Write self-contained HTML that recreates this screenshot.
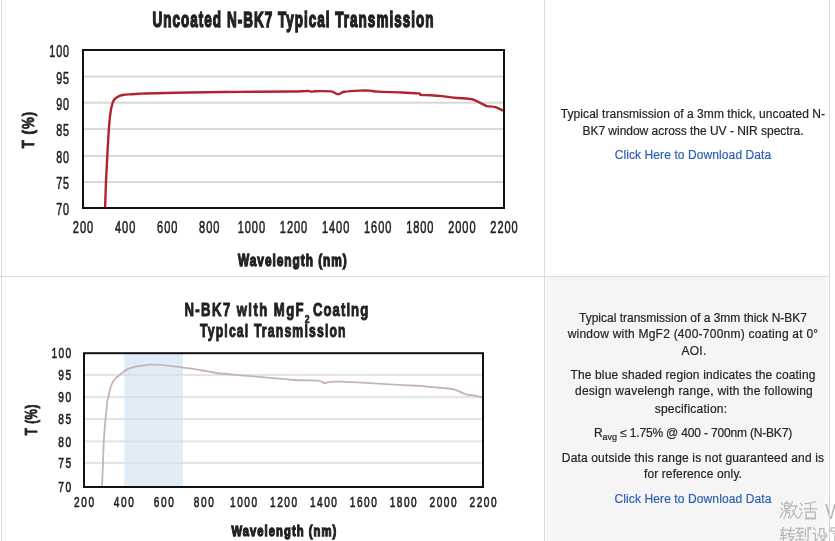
<!DOCTYPE html>
<html><head><meta charset="utf-8">
<style>
html,body{margin:0;padding:0;}
body{width:835px;height:541px;overflow:hidden;background:#fff;position:relative;font-family:"Liberation Sans",sans-serif;}
svg{position:absolute;left:0;top:0;will-change:transform;}
.t{will-change:transform;}
.t{position:absolute;white-space:nowrap;text-align:center;font-size:12px;color:#242424;-webkit-text-stroke:0.2px #242424;}
.ln{position:absolute;left:0;width:835px;}
.link{color:#2f5fb3;-webkit-text-stroke:0.2px #2f5fb3;}
</style></head><body>
<svg width="835" height="541" viewBox="0 0 835 541">
<rect x="545" y="277" width="284" height="264" fill="#f9f9f9"/>
<rect x="551" y="277" width="274" height="264" fill="#f5f5f5"/>
<rect x="547" y="277" width="1" height="264" fill="#f2f2f2"/>
<rect x="1" y="0" width="1" height="541" fill="#dcdcdc"/>
<rect x="5" y="0" width="1" height="541" fill="#f6f6f6"/>
<rect x="544" y="0" width="1" height="541" fill="#dcdcdc"/>
<rect x="829" y="0" width="1" height="541" fill="#dcdcdc"/>
<rect x="0" y="276" width="830" height="1" fill="#dcdcdc"/>
<rect x="84" y="75.50" width="419" height="2" fill="#d8d8d8"/>
<rect x="84" y="101.70" width="419" height="2" fill="#d8d8d8"/>
<rect x="84" y="128.10" width="419" height="2" fill="#d8d8d8"/>
<rect x="84" y="154.90" width="419" height="2" fill="#d8d8d8"/>
<rect x="84" y="181.05" width="419" height="2" fill="#d8d8d8"/>
<path d="M105.10,208.00 C105.25,203.67 105.63,190.63 106.00,182.00 C106.37,173.37 106.83,164.87 107.30,156.20 C107.77,147.53 108.27,137.25 108.80,130.00 C109.33,122.75 109.87,117.23 110.50,112.70 C111.13,108.17 111.87,105.10 112.60,102.80 C113.33,100.50 113.98,99.93 114.90,98.90 C115.82,97.87 116.80,97.25 118.10,96.60 C119.40,95.95 120.38,95.40 122.70,95.00 C125.02,94.60 129.12,94.42 132.00,94.20 C134.88,93.98 137.83,93.82 140.00,93.70 C142.17,93.58 136.67,93.70 145.00,93.50 C153.33,93.30 174.17,92.77 190.00,92.50 C205.83,92.23 223.33,92.07 240.00,91.90 C256.67,91.73 279.17,91.63 290.00,91.50 C300.83,91.37 301.75,91.17 305.00,91.10 C308.25,91.03 308.33,90.98 309.50,91.10 C310.67,91.22 311.08,91.78 312.00,91.80 C312.92,91.82 311.83,91.27 315.00,91.20 C318.17,91.13 327.92,91.23 331.00,91.40 C334.08,91.57 332.47,91.77 333.50,92.20 C334.53,92.63 336.12,93.73 337.20,94.00 C338.28,94.27 338.80,94.17 340.00,93.80 C341.20,93.43 341.07,92.33 344.40,91.80 C347.73,91.27 355.82,90.80 360.00,90.60 C364.18,90.40 366.52,90.43 369.50,90.60 C372.48,90.77 372.50,91.28 377.90,91.60 C383.30,91.92 395.12,92.20 401.90,92.50 C408.68,92.80 415.42,93.00 418.60,93.40 C421.78,93.80 418.97,94.58 421.00,94.90 C423.03,95.22 427.37,95.10 430.80,95.30 C434.23,95.50 437.65,95.70 441.60,96.10 C445.55,96.50 450.02,97.25 454.50,97.70 C458.98,98.15 465.27,98.43 468.50,98.80 C471.73,99.17 471.20,98.83 473.90,99.90 C476.60,100.97 482.55,104.17 484.70,105.20 C486.85,106.23 485.02,105.77 486.80,106.10 C488.58,106.43 492.70,106.45 495.40,107.20 C498.10,107.95 501.73,110.03 503.00,110.60" fill="none" stroke="#b5222f" stroke-width="2.4" stroke-linejoin="round"/>
<rect x="83" y="50" width="421" height="158" fill="none" stroke="#111" stroke-width="2"/>
<text transform="translate(152.5,26.6) scale(0.6,1)" x="0" y="0" font-size="22.5" font-weight="bold" textLength="468.33" lengthAdjust="spacing" font-family="Liberation Sans" fill="#231f20" stroke="#231f20" stroke-width="1.5">Uncoated N-BK7 Typical Transmission</text>
<text transform="translate(49.30,57.10) scale(0.64,1)" x="0" y="0" font-size="16.8" textLength="30.94" lengthAdjust="spacing" font-family="Liberation Sans" fill="#231f20" stroke="#231f20" stroke-width="0.6">100</text>
<text transform="translate(56.20,83.60) scale(0.64,1)" x="0" y="0" font-size="16.8" textLength="20.16" lengthAdjust="spacing" font-family="Liberation Sans" fill="#231f20" stroke="#231f20" stroke-width="0.6">95</text>
<text transform="translate(56.20,109.80) scale(0.64,1)" x="0" y="0" font-size="16.8" textLength="20.16" lengthAdjust="spacing" font-family="Liberation Sans" fill="#231f20" stroke="#231f20" stroke-width="0.6">90</text>
<text transform="translate(56.20,136.20) scale(0.64,1)" x="0" y="0" font-size="16.8" textLength="20.16" lengthAdjust="spacing" font-family="Liberation Sans" fill="#231f20" stroke="#231f20" stroke-width="0.6">85</text>
<text transform="translate(56.20,163.00) scale(0.64,1)" x="0" y="0" font-size="16.8" textLength="20.16" lengthAdjust="spacing" font-family="Liberation Sans" fill="#231f20" stroke="#231f20" stroke-width="0.6">80</text>
<text transform="translate(56.20,189.15) scale(0.64,1)" x="0" y="0" font-size="16.8" textLength="20.16" lengthAdjust="spacing" font-family="Liberation Sans" fill="#231f20" stroke="#231f20" stroke-width="0.6">75</text>
<text transform="translate(56.20,215.10) scale(0.64,1)" x="0" y="0" font-size="16.8" textLength="20.16" lengthAdjust="spacing" font-family="Liberation Sans" fill="#231f20" stroke="#231f20" stroke-width="0.6">70</text>
<text transform="translate(72.80,232.80) scale(0.64,1)" x="0" y="0" font-size="17.2" textLength="31.87" lengthAdjust="spacing" font-family="Liberation Sans" fill="#231f20" stroke="#231f20" stroke-width="0.6">200</text>
<text transform="translate(114.90,232.80) scale(0.64,1)" x="0" y="0" font-size="17.2" textLength="31.87" lengthAdjust="spacing" font-family="Liberation Sans" fill="#231f20" stroke="#231f20" stroke-width="0.6">400</text>
<text transform="translate(157.00,232.80) scale(0.64,1)" x="0" y="0" font-size="17.2" textLength="31.87" lengthAdjust="spacing" font-family="Liberation Sans" fill="#231f20" stroke="#231f20" stroke-width="0.6">600</text>
<text transform="translate(199.10,232.80) scale(0.64,1)" x="0" y="0" font-size="17.2" textLength="31.87" lengthAdjust="spacing" font-family="Liberation Sans" fill="#231f20" stroke="#231f20" stroke-width="0.6">800</text>
<text transform="translate(237.75,232.80) scale(0.64,1)" x="0" y="0" font-size="17.2" textLength="42.66" lengthAdjust="spacing" font-family="Liberation Sans" fill="#231f20" stroke="#231f20" stroke-width="0.6">1000</text>
<text transform="translate(279.85,232.80) scale(0.64,1)" x="0" y="0" font-size="17.2" textLength="42.66" lengthAdjust="spacing" font-family="Liberation Sans" fill="#231f20" stroke="#231f20" stroke-width="0.6">1200</text>
<text transform="translate(321.95,232.80) scale(0.64,1)" x="0" y="0" font-size="17.2" textLength="42.66" lengthAdjust="spacing" font-family="Liberation Sans" fill="#231f20" stroke="#231f20" stroke-width="0.6">1400</text>
<text transform="translate(364.05,232.80) scale(0.64,1)" x="0" y="0" font-size="17.2" textLength="42.66" lengthAdjust="spacing" font-family="Liberation Sans" fill="#231f20" stroke="#231f20" stroke-width="0.6">1600</text>
<text transform="translate(406.15,232.80) scale(0.64,1)" x="0" y="0" font-size="17.2" textLength="42.66" lengthAdjust="spacing" font-family="Liberation Sans" fill="#231f20" stroke="#231f20" stroke-width="0.6">1800</text>
<text transform="translate(448.25,232.80) scale(0.64,1)" x="0" y="0" font-size="17.2" textLength="42.66" lengthAdjust="spacing" font-family="Liberation Sans" fill="#231f20" stroke="#231f20" stroke-width="0.6">2000</text>
<text transform="translate(490.35,232.80) scale(0.64,1)" x="0" y="0" font-size="17.2" textLength="42.66" lengthAdjust="spacing" font-family="Liberation Sans" fill="#231f20" stroke="#231f20" stroke-width="0.6">2200</text>
<text transform="translate(33.5,148.2) rotate(-90) scale(0.78,1)" x="0" y="0" font-size="17" font-weight="bold" textLength="46.79" lengthAdjust="spacing" font-family="Liberation Sans" fill="#231f20" stroke="#231f20" stroke-width="0.8">T (%)</text>
<text transform="translate(238.0,266.2) scale(0.72,1)" x="0" y="0" font-size="16.5" font-weight="bold" textLength="151.11" lengthAdjust="spacing" font-family="Liberation Sans" fill="#231f20" stroke="#231f20" stroke-width="1.3">Wavelength (nm)</text>
<rect x="124.3" y="354" width="58.5" height="132" fill="#e0ecf6"/>
<rect x="85" y="373.90" width="397" height="2" fill="#dcdcdc" fill-opacity="0.8"/>
<rect x="85" y="396.10" width="397" height="2" fill="#dcdcdc" fill-opacity="0.8"/>
<rect x="85" y="418.10" width="397" height="2" fill="#dcdcdc" fill-opacity="0.8"/>
<rect x="85" y="440.40" width="397" height="2" fill="#dcdcdc" fill-opacity="0.8"/>
<rect x="85" y="461.90" width="397" height="2" fill="#dcdcdc" fill-opacity="0.8"/>
<path d="M102.00,487.00 C102.17,483.00 102.70,470.60 103.00,463.00 C103.30,455.40 103.38,448.72 103.80,441.40 C104.22,434.08 104.88,426.00 105.50,419.10 C106.12,412.20 107.07,403.52 107.50,400.00 C107.93,396.48 107.48,400.42 108.10,398.00 C108.72,395.58 110.05,388.67 111.20,385.50 C112.35,382.33 113.62,380.73 115.00,379.00 C116.38,377.27 117.28,376.78 119.50,375.10 C121.72,373.42 124.88,370.43 128.30,368.90 C131.72,367.37 135.85,366.62 140.00,365.90 C144.15,365.18 148.20,364.62 153.20,364.60 C158.20,364.58 165.02,365.30 170.00,365.80 C174.98,366.30 178.12,366.90 183.10,367.60 C188.08,368.30 194.32,369.10 199.90,370.00 C205.48,370.90 209.92,372.12 216.60,373.00 C223.28,373.88 231.95,374.58 240.00,375.30 C248.05,376.02 255.75,376.52 264.90,377.30 C274.05,378.08 286.12,379.45 294.90,380.00 C303.68,380.55 313.25,380.35 317.60,380.60 C321.95,380.85 319.80,381.10 321.00,381.50 C322.20,381.90 323.17,382.95 324.80,383.00 C326.43,383.05 327.93,382.02 330.80,381.80 C333.67,381.58 336.13,381.52 342.00,381.70 C347.87,381.88 358.02,382.45 366.00,382.90 C373.98,383.35 382.93,384.00 389.90,384.40 C396.87,384.80 402.78,385.05 407.80,385.30 C412.82,385.55 415.87,385.58 420.00,385.90 C424.13,386.22 427.72,386.75 432.60,387.20 C437.48,387.65 445.40,388.12 449.30,388.60 C453.20,389.08 453.07,389.08 456.00,390.10 C458.93,391.12 464.23,393.87 466.90,394.70 C469.57,395.53 469.48,394.67 472.00,395.10 C474.52,395.53 480.33,396.93 482.00,397.30" fill="none" stroke="#c6b3ba" stroke-width="1.8" stroke-linejoin="round"/>
<rect x="84" y="353.2" width="399" height="133.8" fill="none" stroke="#111" stroke-width="2"/>
<text transform="translate(184.4,315.9) scale(0.71,1)" x="0" y="0" font-size="18.5" font-weight="bold" textLength="167.89" lengthAdjust="spacing" font-family="Liberation Sans" fill="#231f20" stroke="#231f20" stroke-width="1.0">N-BK7 with MgF</text>
<text x="304.8" y="322.8" font-size="10.5" font-weight="bold" textLength="4.8" lengthAdjust="spacingAndGlyphs" font-family="Liberation Sans" fill="#231f20" stroke="#231f20" stroke-width="0.6">2</text>
<text transform="translate(313.0,315.9) scale(0.71,1)" x="0" y="0" font-size="18.5" font-weight="bold" textLength="77.75" lengthAdjust="spacing" font-family="Liberation Sans" fill="#231f20" stroke="#231f20" stroke-width="1.0">Coating</text>
<text transform="translate(200.0,336.7) scale(0.69,1)" x="0" y="0" font-size="17.8" font-weight="bold" textLength="211.01" lengthAdjust="spacing" font-family="Liberation Sans" fill="#231f20" stroke="#231f20" stroke-width="1.0">Typical Transmission</text>
<text transform="translate(51.60,358.20) scale(0.72,1)" x="0" y="0" font-size="14.2" textLength="27.22" lengthAdjust="spacing" font-family="Liberation Sans" fill="#231f20" stroke="#231f20" stroke-width="0.6">100</text>
<text transform="translate(58.20,380.10) scale(0.72,1)" x="0" y="0" font-size="14.2" textLength="18.06" lengthAdjust="spacing" font-family="Liberation Sans" fill="#231f20" stroke="#231f20" stroke-width="0.6">95</text>
<text transform="translate(58.20,402.30) scale(0.72,1)" x="0" y="0" font-size="14.2" textLength="18.06" lengthAdjust="spacing" font-family="Liberation Sans" fill="#231f20" stroke="#231f20" stroke-width="0.6">90</text>
<text transform="translate(58.20,424.30) scale(0.72,1)" x="0" y="0" font-size="14.2" textLength="18.06" lengthAdjust="spacing" font-family="Liberation Sans" fill="#231f20" stroke="#231f20" stroke-width="0.6">85</text>
<text transform="translate(58.20,446.60) scale(0.72,1)" x="0" y="0" font-size="14.2" textLength="18.06" lengthAdjust="spacing" font-family="Liberation Sans" fill="#231f20" stroke="#231f20" stroke-width="0.6">80</text>
<text transform="translate(58.20,468.10) scale(0.72,1)" x="0" y="0" font-size="14.2" textLength="18.06" lengthAdjust="spacing" font-family="Liberation Sans" fill="#231f20" stroke="#231f20" stroke-width="0.6">75</text>
<text transform="translate(58.20,492.30) scale(0.72,1)" x="0" y="0" font-size="14.2" textLength="18.06" lengthAdjust="spacing" font-family="Liberation Sans" fill="#231f20" stroke="#231f20" stroke-width="0.6">70</text>
<text transform="translate(73.95,506.80) scale(0.72,1)" x="0" y="0" font-size="14.0" textLength="27.92" lengthAdjust="spacing" font-family="Liberation Sans" fill="#231f20" stroke="#231f20" stroke-width="0.6">200</text>
<text transform="translate(113.85,506.80) scale(0.72,1)" x="0" y="0" font-size="14.0" textLength="27.92" lengthAdjust="spacing" font-family="Liberation Sans" fill="#231f20" stroke="#231f20" stroke-width="0.6">400</text>
<text transform="translate(153.75,506.80) scale(0.72,1)" x="0" y="0" font-size="14.0" textLength="27.92" lengthAdjust="spacing" font-family="Liberation Sans" fill="#231f20" stroke="#231f20" stroke-width="0.6">600</text>
<text transform="translate(193.65,506.80) scale(0.72,1)" x="0" y="0" font-size="14.0" textLength="27.92" lengthAdjust="spacing" font-family="Liberation Sans" fill="#231f20" stroke="#231f20" stroke-width="0.6">800</text>
<text transform="translate(230.10,506.80) scale(0.72,1)" x="0" y="0" font-size="14.0" textLength="37.50" lengthAdjust="spacing" font-family="Liberation Sans" fill="#231f20" stroke="#231f20" stroke-width="0.6">1000</text>
<text transform="translate(270.00,506.80) scale(0.72,1)" x="0" y="0" font-size="14.0" textLength="37.50" lengthAdjust="spacing" font-family="Liberation Sans" fill="#231f20" stroke="#231f20" stroke-width="0.6">1200</text>
<text transform="translate(309.90,506.80) scale(0.72,1)" x="0" y="0" font-size="14.0" textLength="37.50" lengthAdjust="spacing" font-family="Liberation Sans" fill="#231f20" stroke="#231f20" stroke-width="0.6">1400</text>
<text transform="translate(349.80,506.80) scale(0.72,1)" x="0" y="0" font-size="14.0" textLength="37.50" lengthAdjust="spacing" font-family="Liberation Sans" fill="#231f20" stroke="#231f20" stroke-width="0.6">1600</text>
<text transform="translate(389.70,506.80) scale(0.72,1)" x="0" y="0" font-size="14.0" textLength="37.50" lengthAdjust="spacing" font-family="Liberation Sans" fill="#231f20" stroke="#231f20" stroke-width="0.6">1800</text>
<text transform="translate(429.60,506.80) scale(0.72,1)" x="0" y="0" font-size="14.0" textLength="37.50" lengthAdjust="spacing" font-family="Liberation Sans" fill="#231f20" stroke="#231f20" stroke-width="0.6">2000</text>
<text transform="translate(469.50,506.80) scale(0.72,1)" x="0" y="0" font-size="14.0" textLength="37.50" lengthAdjust="spacing" font-family="Liberation Sans" fill="#231f20" stroke="#231f20" stroke-width="0.6">2200</text>
<text transform="translate(36.7,435.2) rotate(-90) scale(0.7,1)" x="0" y="0" font-size="16.5" font-weight="bold" textLength="43.57" lengthAdjust="spacing" font-family="Liberation Sans" fill="#231f20" stroke="#231f20" stroke-width="0.8">T (%)</text>
<text transform="translate(231.5,535.7) scale(0.74,1)" x="0" y="0" font-size="15.2" font-weight="bold" textLength="141.62" lengthAdjust="spacing" font-family="Liberation Sans" fill="#231f20" stroke="#231f20" stroke-width="1.3">Wavelength (nm)</text>
<g transform="translate(779.7,501) scale(0.1800)" fill="none" stroke="#b9b9b9" stroke-width="6.94" stroke-linecap="square"><path d="M10 12 L18 22"/><path d="M6 40 L15 48"/><path d="M3 92 L18 62"/><path d="M40 3 L37 12"/><path d="M28 13 H52 V42 H28 Z"/><path d="M28 27 H52"/><path d="M24 54 H58"/><path d="M40 46 V54"/><path d="M37 54 Q34 80 24 96"/><path d="M40 64 H55 Q55 90 47 92"/><path d="M70 4 Q66 22 58 36"/><path d="M64 28 H97"/><path d="M90 28 Q82 70 58 97"/><path d="M70 50 Q82 80 99 96"/></g>
<g transform="translate(798.6,501) scale(0.1850)" fill="none" stroke="#b9b9b9" stroke-width="6.76" stroke-linecap="square"><path d="M10 12 L18 22"/><path d="M6 40 L15 48"/><path d="M3 92 L18 62"/><path d="M36 14 Q65 12 92 4"/><path d="M30 42 H98"/><path d="M64 12 V60"/><path d="M40 60 H90 V96 H40 Z"/><path d="M40 92 H90"/></g>
<text x="825" y="518.6" font-family="Liberation Sans" font-size="22" fill="#b9b9b9" textLength="20" lengthAdjust="spacingAndGlyphs">W</text>
<g transform="translate(779.7,527) scale(0.1500)" fill="none" stroke="#b9b9b9" stroke-width="8.33" stroke-linecap="square"><path d="M4 20 H42"/><path d="M24 4 Q16 40 8 56 H40"/><path d="M25 36 V100"/><path d="M2 78 L44 72"/><path d="M50 22 H96"/><path d="M44 46 H100"/><path d="M74 4 L62 64 H94 Q86 80 76 88"/><path d="M64 80 L88 98"/></g>
<g transform="translate(795.4,527) scale(0.1350)" fill="none" stroke="#b9b9b9" stroke-width="9.26" stroke-linecap="square"><path d="M4 10 H60"/><path d="M32 10 L12 46 L56 40"/><path d="M46 30 L56 44"/><path d="M12 66 H56"/><path d="M34 46 V92"/><path d="M2 94 H64"/><path d="M74 18 V70"/><path d="M94 2 V94 Q94 100 84 96"/></g>
<g transform="translate(808,527) scale(0.0600)" fill="none" stroke="#b9b9b9" stroke-width="20.83" stroke-linecap="square"><path d="M20 8 L14 36"/><path d="M44 8 L38 36"/></g>
<g transform="translate(812.4,527) scale(0.1600)" fill="none" stroke="#b9b9b9" stroke-width="7.81" stroke-linecap="square"><path d="M8 6 L18 18"/><path d="M4 40 H18 V86 L30 76"/><path d="M46 10 V34 Q44 44 36 50"/><path d="M46 10 H72 V36 Q74 44 88 44"/><path d="M40 56 H90"/><path d="M86 56 Q70 86 38 98"/><path d="M50 64 Q70 90 98 98"/></g>
<g transform="translate(830,527) scale(0.1600)" fill="none" stroke="#b9b9b9" stroke-width="7.81" stroke-linecap="square"><path d="M6 6 V26 H100 V6 H6"/><path d="M40 6 V26"/><path d="M70 6 V26"/><path d="M20 40 H90"/><path d="M30 50 V96"/><path d="M10 98 H100"/></g>
<rect x="829" y="495" width="1" height="46" fill="#d4d4d4"/>
</svg>
<div class="t " style="left:543.0px;width:300px;top:107.0px;letter-spacing:0.060px;">Typical transmission of a 3mm thick, uncoated N-</div>
<div class="t " style="left:543.4px;width:300px;top:123.5px;letter-spacing:-0.024px;">BK7 window across the UV - NIR spectra.</div>
<div class="t link" style="left:543.0px;width:300px;top:147.9px;letter-spacing:0.096px;">Click Here to Download Data</div>
<div class="t " style="left:543.2px;width:300px;top:310.8px;letter-spacing:-0.002px;">Typical transmission of a 3mm thick N-BK7</div>
<div class="t " style="left:543.4px;width:300px;top:326.9px;letter-spacing:0.233px;">window with MgF2 (400-700nm) coating at 0&deg;</div>
<div class="t " style="left:543.5px;width:300px;top:343.7px;letter-spacing:0.300px;">AOI.</div>
<div class="t " style="left:543.2px;width:300px;top:367.6px;letter-spacing:0.142px;">The blue shaded region indicates the coating</div>
<div class="t " style="left:543.5px;width:300px;top:384.4px;letter-spacing:0.234px;">design wavelengh range, with the following</div>
<div class="t " style="left:541.3px;width:300px;top:401.5px;letter-spacing:0.238px;">specification:</div>
<div class="t " style="left:543.4px;width:300px;top:426.2px;letter-spacing:-0.171px;">R<sub style="font-size:9px;vertical-align:-3px;letter-spacing:0">avg</sub> &le; 1.75% @ 400 - 700nm (N-BK7)</div>
<div class="t " style="left:543.1px;width:300px;top:451.1px;letter-spacing:0.157px;">Data outside this range is not guaranteed and is</div>
<div class="t " style="left:542.9px;width:300px;top:466.8px;letter-spacing:0.122px;">for reference only.</div>
<div class="t link" style="left:542.9px;width:300px;top:491.8px;letter-spacing:0.108px;">Click Here to Download Data</div>
</body></html>
